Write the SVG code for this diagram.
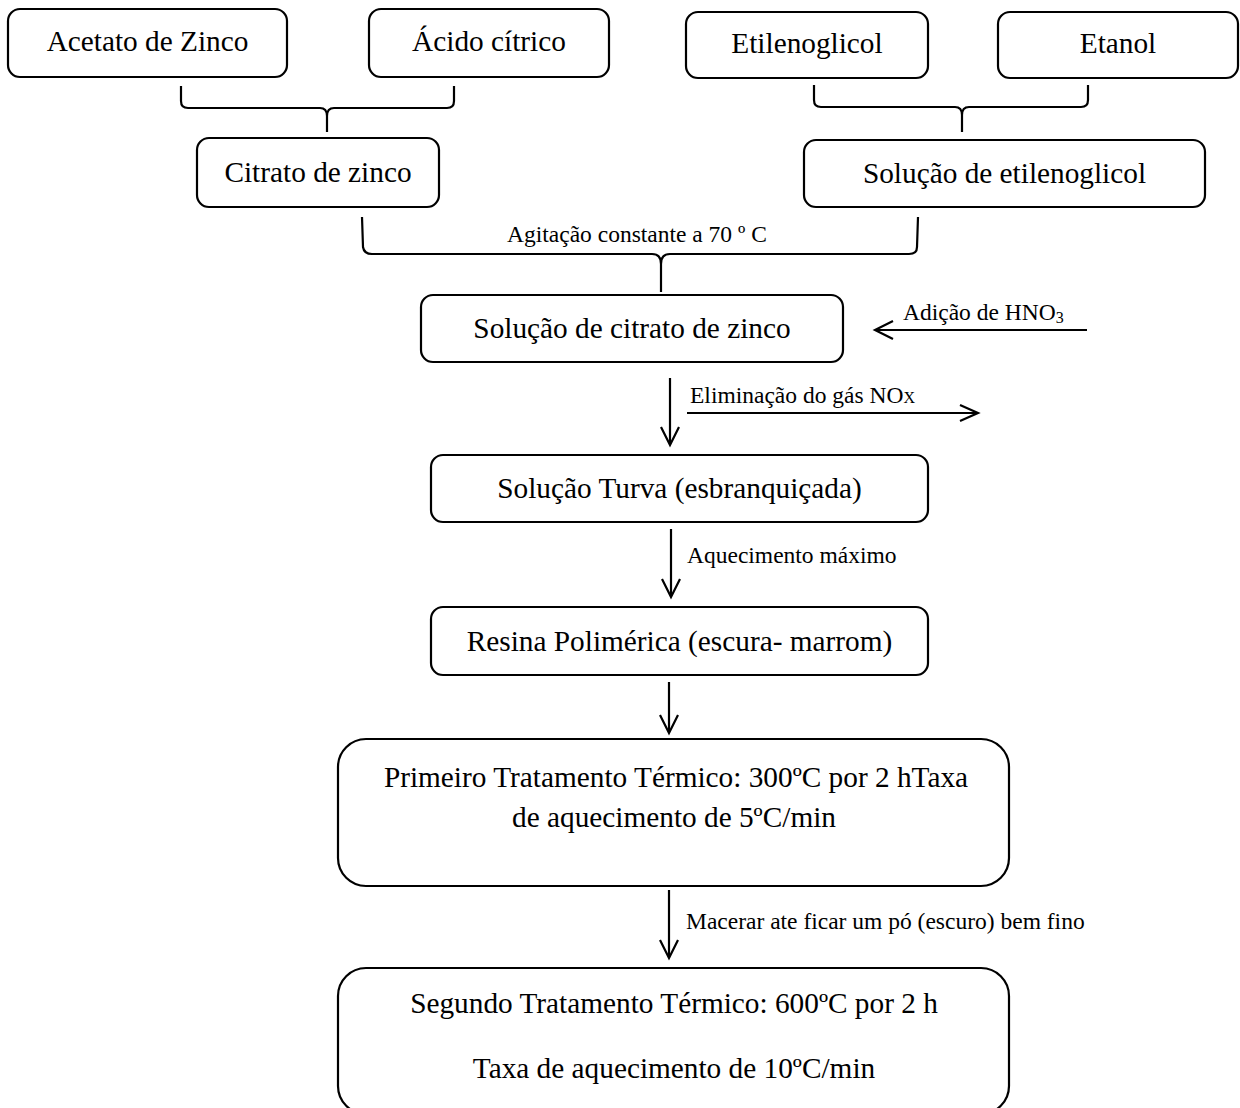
<svg xmlns="http://www.w3.org/2000/svg" width="1240" height="1108" viewBox="0 0 1240 1108">
  <style>
    .box { fill: #ffffff; stroke: #000000; stroke-width: 2.2; }
    .node { font-family: "Liberation Serif", "Times New Roman", serif; font-size: 29.3px; fill: #000000; text-anchor: middle; }
    .lbl { font-family: "Liberation Serif", "Times New Roman", serif; font-size: 23.5px; fill: #000000; }
    .sub { font-size: 16px; }
    .wire { fill: none; stroke: #000000; stroke-width: 2.2; }
    .head { fill: none; stroke: #000000; stroke-width: 2.2; stroke-linejoin: miter; }
  </style>
  <rect width="1240" height="1108" fill="#ffffff"/>

  <!-- raw materials -->
  <g id="acetato-zinco">
    <rect class="box" x="8" y="9" width="279" height="68" rx="12"/>
    <text class="node" x="147.5" y="51">Acetato de Zinco</text>
  </g>
  <g id="acido-citrico">
    <rect class="box" x="369" y="9" width="240" height="68" rx="12"/>
    <text class="node" x="489" y="51">Ácido cítrico</text>
  </g>
  <g id="etilenoglicol">
    <rect class="box" x="686" y="12" width="242" height="66" rx="12"/>
    <text class="node" x="807" y="53">Etilenoglicol</text>
  </g>
  <g id="etanol">
    <rect class="box" x="998" y="12" width="240" height="66" rx="12"/>
    <text class="node" x="1118" y="53">Etanol</text>
  </g>

  <!-- intermediates -->
  <g id="citrato-zinco">
    <rect class="box" x="197" y="138" width="242" height="69" rx="12"/>
    <text class="node" x="318" y="182">Citrato de zinco</text>
  </g>
  <g id="solucao-etilenoglicol">
    <rect class="box" x="804" y="140" width="401" height="67" rx="12"/>
    <text class="node" x="1004.5" y="183">Solução de etilenoglicol</text>
  </g>
  <g id="solucao-citrato">
    <rect class="box" x="421" y="295" width="422" height="67" rx="12"/>
    <text class="node" x="632" y="338">Solução de citrato de zinco</text>
  </g>
  <g id="solucao-turva">
    <rect class="box" x="431" y="455" width="497" height="67" rx="12"/>
    <text class="node" x="679.5" y="498">Solução Turva (esbranquiçada)</text>
  </g>
  <g id="resina">
    <rect class="box" x="431" y="607" width="497" height="68" rx="12"/>
    <text class="node" x="679.5" y="651">Resina Polimérica (escura- marrom)</text>
  </g>

  <!-- heat treatments -->
  <g id="tratamento-1">
    <rect class="box" x="338" y="739" width="671" height="147" rx="28"/>
    <text class="node" x="676" y="787">Primeiro Tratamento Térmico: 300ºC por 2 hTaxa</text>
    <text class="node" x="674" y="827">de aquecimento de 5ºC/min</text>
  </g>
  <g id="tratamento-2">
    <rect class="box" x="338" y="968" width="671" height="146" rx="28"/>
    <text class="node" x="674" y="1013">Segundo Tratamento Térmico: 600ºC por 2 h</text>
    <text class="node" x="674" y="1078">Taxa de aquecimento de 10ºC/min</text>
  </g>

  <!-- connectors -->
  <g id="connectors">
    <!-- brace joining acetato + acido -->
    <path class="wire" d="M181,86 L181,101 Q181,108 188,108 L320,108 Q327,108 327,116 L327,132 M327,116 Q327,108 334,108 L447,108 Q454,108 454,101 L454,86"/>
    <!-- brace joining etilenoglicol + etanol -->
    <path class="wire" d="M814,85 L814,100 Q814,107 821,107 L955,107 Q962,107 962,115 L962,132 M962,115 Q962,107 969,107 L1081,107 Q1088,107 1088,100 L1088,85"/>
    <!-- brace joining both solutions -->
    <path class="wire" d="M362,217 L363,247 Q364,254 372,254 L652,254 Q661,254 661,264 L661,292 M661,264 Q661,254 670,254 L909,254 Q917,254 917,247 L918,217"/>
    <text class="lbl" x="507" y="242">Agitação constante a 70 º C</text>

    <!-- HNO3 addition -->
    <line class="wire" x1="1087" y1="330" x2="876" y2="330"/>
    <polyline class="head" points="893,321 875,330 893,339"/>
    <text class="lbl" x="903" y="320">Adição de HNO<tspan class="sub" dy="3">3</tspan></text>

    <!-- citrato -> turva -->
    <line class="wire" x1="670" y1="378" x2="670" y2="444"/>
    <polyline class="head" points="661,427 670,445 679,427"/>
    <!-- NOx release -->
    <line class="wire" x1="687" y1="413" x2="977" y2="413"/>
    <polyline class="head" points="960,405 978,413 960,421"/>
    <text class="lbl" x="690" y="403">Eliminação do gás NO<tspan class="sub">X</tspan></text>

    <!-- turva -> resina -->
    <line class="wire" x1="671" y1="529" x2="671" y2="596"/>
    <polyline class="head" points="662,579 671,597 680,579"/>
    <text class="lbl" x="687" y="563">Aquecimento máximo</text>

    <!-- resina -> tratamento 1 -->
    <line class="wire" x1="669" y1="682" x2="669" y2="732"/>
    <polyline class="head" points="660,715 669,733 678,715"/>

    <!-- tratamento 1 -> tratamento 2 -->
    <line class="wire" x1="669" y1="890" x2="669" y2="957"/>
    <polyline class="head" points="660,940 669,958 678,940"/>
    <text class="lbl" x="686" y="929">Macerar ate ficar um pó (escuro) bem fino</text>
  </g>
</svg>
